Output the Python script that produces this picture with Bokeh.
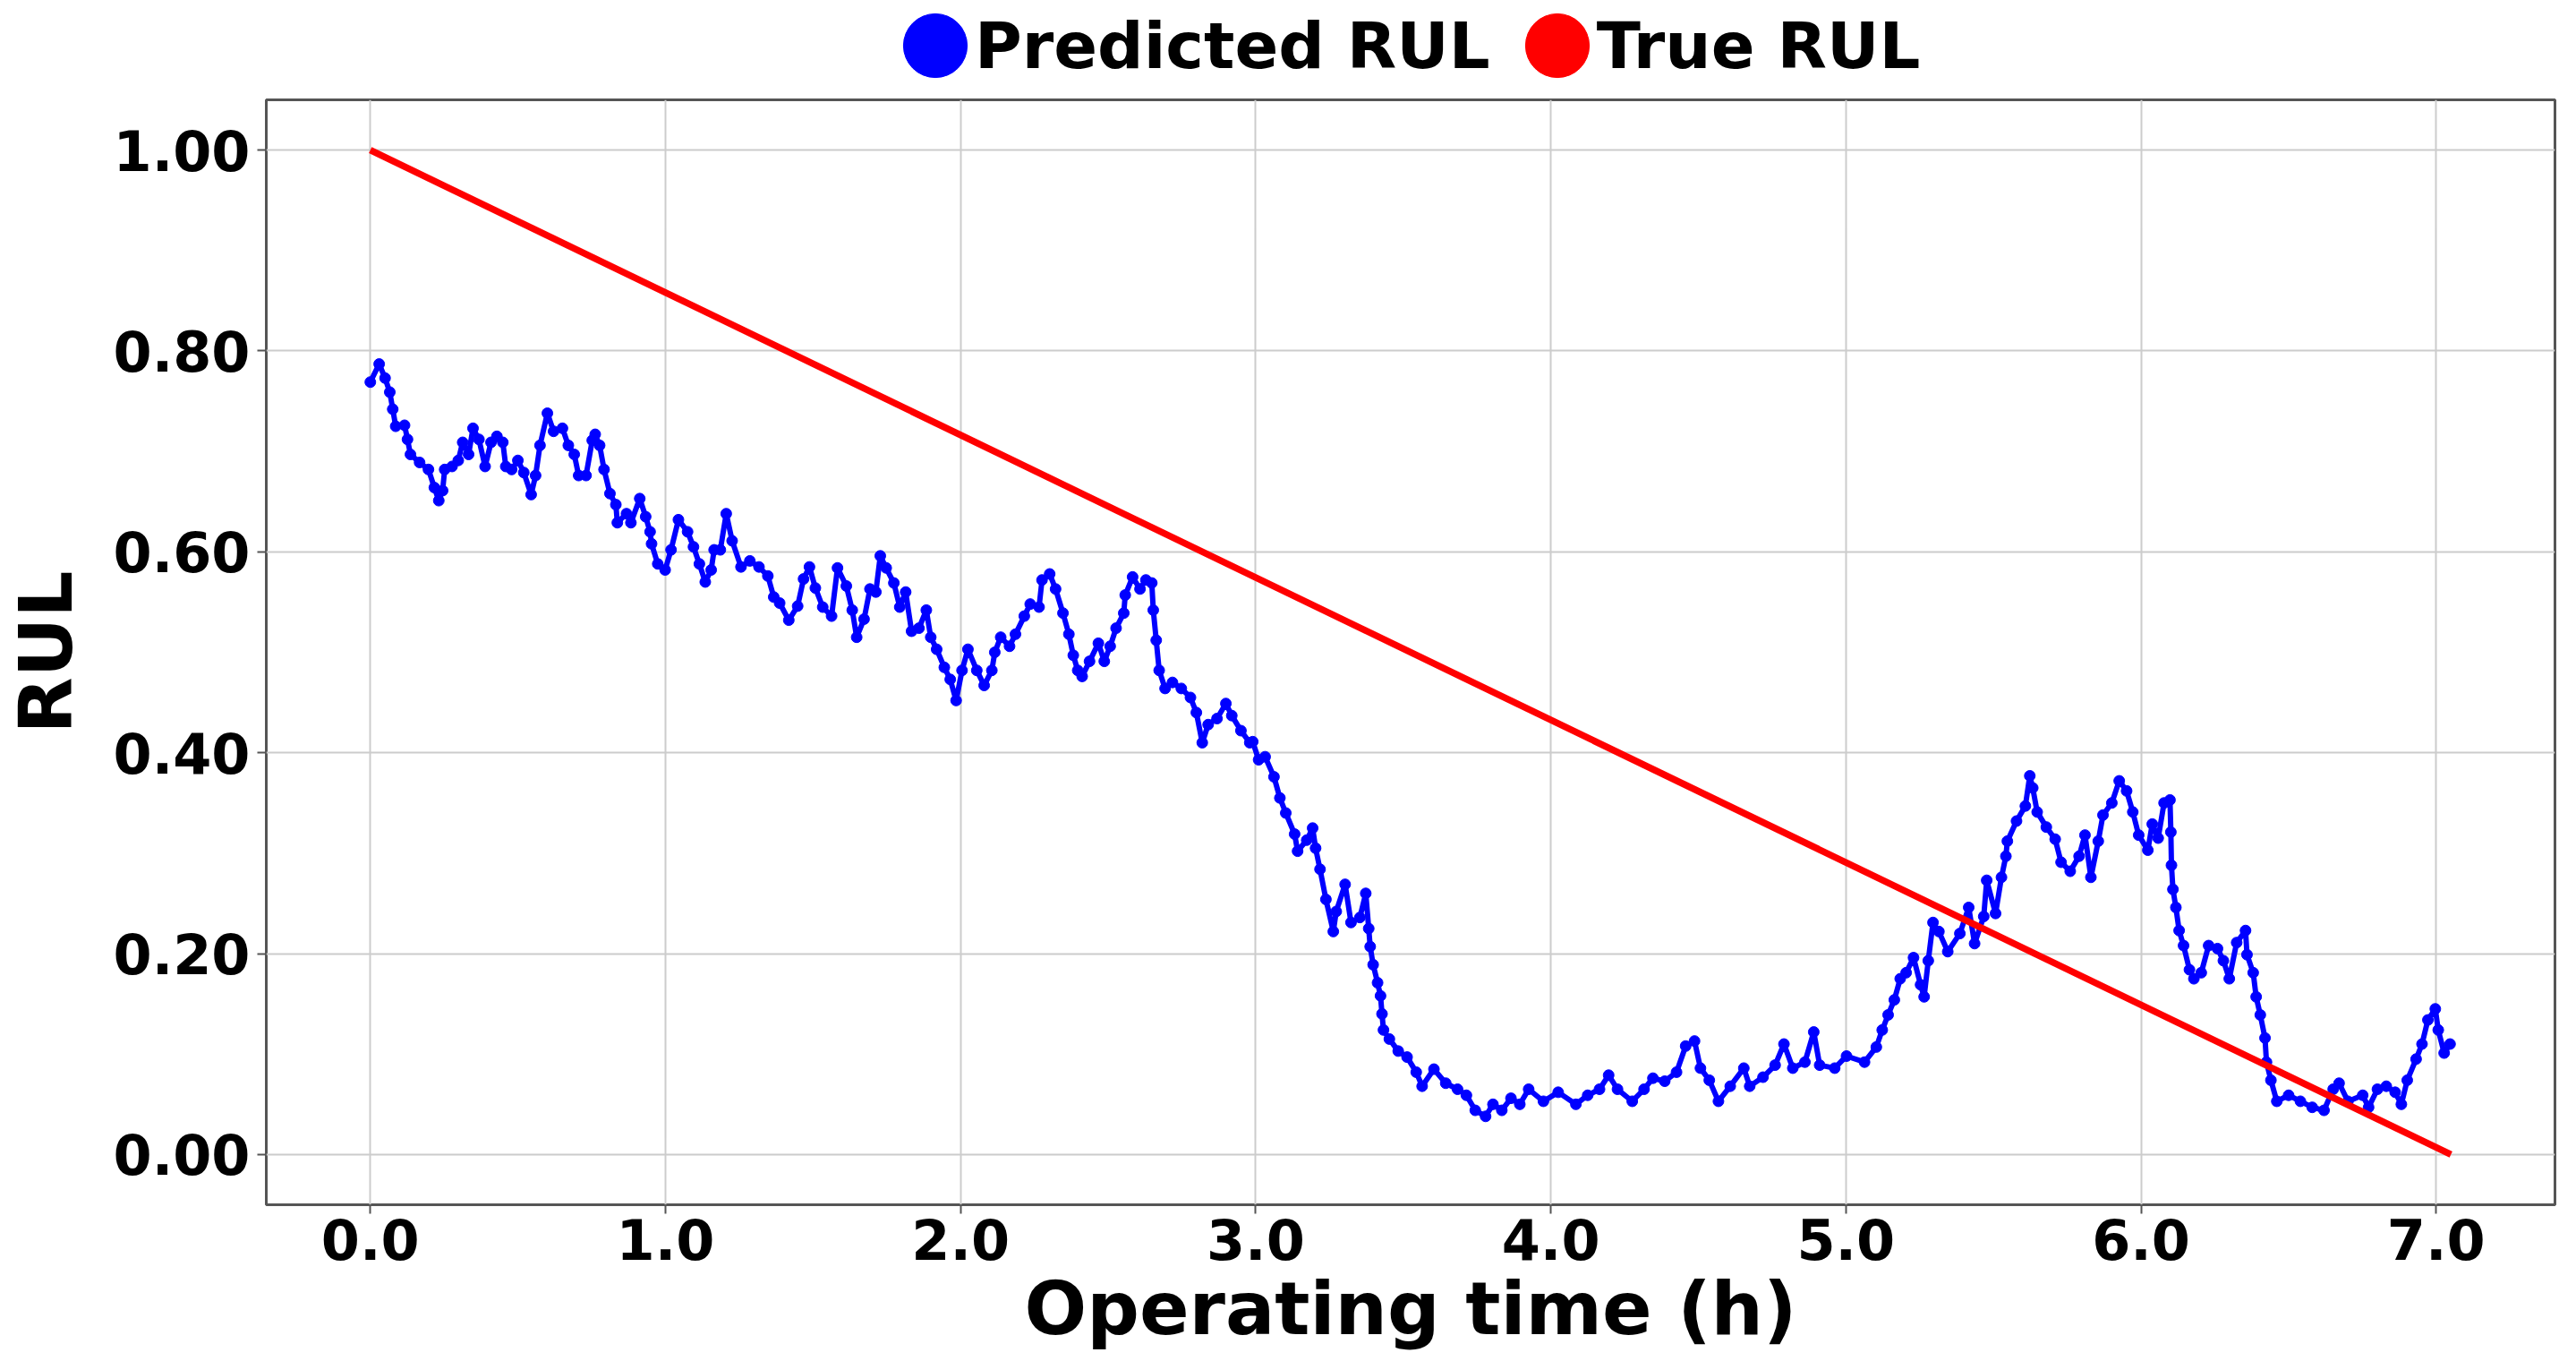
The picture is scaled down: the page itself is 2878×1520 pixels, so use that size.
from bokeh.plotting import figure
from bokeh.layouts import column
from bokeh.models import FixedTicker, NumeralTickFormatter, Legend, LegendItem, Range1d
from bokeh.embed import file_html
from bokeh.resources import INLINE

# ---------------- data ----------------
pred_time = [
    0.000, 0.030, 0.050, 0.066, 0.076, 0.086, 0.116, 0.126, 0.136, 0.167,
    0.197, 0.217, 0.232, 0.245, 0.252, 0.277, 0.298, 0.313, 0.333, 0.348,
    0.368, 0.389, 0.409, 0.429, 0.449, 0.459, 0.479, 0.500, 0.520, 0.545,
    0.560, 0.575, 0.600, 0.621, 0.651, 0.671, 0.691, 0.706, 0.731, 0.752,
    0.762, 0.777, 0.792, 0.812, 0.832, 0.837, 0.868, 0.883, 0.913, 0.933,
    0.948, 0.953, 0.974, 0.999, 1.019, 1.044, 1.075, 1.095, 1.115, 1.135,
    1.155, 1.165, 1.186, 1.206, 1.226, 1.256, 1.286, 1.317, 1.347, 1.367,
    1.387, 1.418, 1.448, 1.468, 1.488, 1.508, 1.533, 1.563, 1.583, 1.613,
    1.633, 1.648, 1.673, 1.693, 1.713, 1.728, 1.748, 1.774, 1.794, 1.814,
    1.834, 1.859, 1.884, 1.899, 1.919, 1.945, 1.965, 1.985, 2.005, 2.025,
    2.055, 2.080, 2.106, 2.116, 2.136, 2.166, 2.186, 2.216, 2.236, 2.266,
    2.276, 2.302, 2.322, 2.347, 2.367, 2.382, 2.397, 2.412, 2.437, 2.467,
    2.487, 2.507, 2.527, 2.553, 2.558, 2.583, 2.608, 2.628, 2.648, 2.653,
    2.663, 2.673, 2.693, 2.718, 2.748, 2.779, 2.799, 2.819, 2.839, 2.869,
    2.899, 2.919, 2.950, 2.980, 2.990, 3.010, 3.032, 3.062, 3.082, 3.102,
    3.132, 3.142, 3.173, 3.193, 3.203, 3.218, 3.238, 3.263, 3.273, 3.303,
    3.323, 3.353, 3.373, 3.383, 3.388, 3.398, 3.413, 3.423, 3.428, 3.433,
    3.453, 3.483, 3.513, 3.544, 3.564, 3.604, 3.644, 3.684, 3.714, 3.744,
    3.779, 3.804, 3.834, 3.865, 3.895, 3.925, 3.975, 4.025, 4.085, 4.125,
    4.165, 4.196, 4.226, 4.276, 4.316, 4.346, 4.386, 4.426, 4.457, 4.487,
    4.507, 4.537, 4.568, 4.608, 4.654, 4.674, 4.719, 4.760, 4.790, 4.820,
    4.861, 4.891, 4.911, 4.962, 5.002, 5.063, 5.103, 5.123, 5.143, 5.164,
    5.184, 5.204, 5.229, 5.253, 5.265, 5.279, 5.295, 5.315, 5.345, 5.386,
    5.416, 5.436, 5.467, 5.477, 5.507, 5.527, 5.542, 5.547, 5.578, 5.608,
    5.623, 5.633, 5.648, 5.679, 5.709, 5.729, 5.760, 5.790, 5.810, 5.830,
    5.855, 5.871, 5.901, 5.926, 5.951, 5.972, 5.992, 6.023, 6.038, 6.058,
    6.078, 6.098, 6.101, 6.103, 6.108, 6.118, 6.129, 6.144, 6.164, 6.179,
    6.204, 6.229, 6.259, 6.279, 6.299, 6.324, 6.354, 6.359, 6.380, 6.390,
    6.404, 6.420, 6.425, 6.440, 6.460, 6.500, 6.540, 6.580, 6.620, 6.651,
    6.671, 6.701, 6.751, 6.771, 6.801, 6.831, 6.861, 6.882, 6.902, 6.932,
    6.952, 6.972, 6.997, 7.007, 7.027, 7.047,
]
pred_rul = [
    0.769, 0.787, 0.773, 0.759, 0.742, 0.725, 0.726, 0.712, 0.697, 0.689,
    0.682, 0.664, 0.651, 0.661, 0.682, 0.685, 0.691, 0.709, 0.697, 0.723,
    0.712, 0.685, 0.709, 0.715, 0.709, 0.685, 0.682, 0.691, 0.679, 0.657,
    0.676, 0.706, 0.738, 0.720, 0.723, 0.706, 0.697, 0.676, 0.676, 0.711,
    0.717, 0.706, 0.682, 0.658, 0.647, 0.629, 0.638, 0.629, 0.653, 0.635,
    0.620, 0.608, 0.588, 0.582, 0.602, 0.632, 0.620, 0.605, 0.588, 0.570,
    0.582, 0.602, 0.602, 0.638, 0.611, 0.585, 0.591, 0.585, 0.576, 0.555,
    0.549, 0.532, 0.546, 0.573, 0.585, 0.564, 0.545, 0.536, 0.584, 0.566,
    0.542, 0.515, 0.533, 0.563, 0.560, 0.596, 0.584, 0.569, 0.545, 0.560,
    0.521, 0.524, 0.542, 0.515, 0.503, 0.485, 0.473, 0.452, 0.482, 0.503,
    0.482, 0.467, 0.482, 0.500, 0.515, 0.506, 0.518, 0.536, 0.548, 0.545,
    0.572, 0.578, 0.563, 0.539, 0.518, 0.497, 0.482, 0.476, 0.491, 0.509,
    0.491, 0.506, 0.524, 0.539, 0.557, 0.575, 0.563, 0.572, 0.569, 0.542,
    0.512, 0.482, 0.464, 0.470, 0.464, 0.455, 0.440, 0.410, 0.428, 0.434,
    0.449, 0.437, 0.422, 0.410, 0.411, 0.393, 0.396, 0.376, 0.355, 0.340,
    0.319, 0.302, 0.313, 0.325, 0.305, 0.284, 0.254, 0.222, 0.242, 0.269,
    0.231, 0.236, 0.260, 0.225, 0.207, 0.189, 0.171, 0.158, 0.140, 0.124,
    0.115, 0.103, 0.097, 0.082, 0.068, 0.085, 0.071, 0.065, 0.059, 0.044,
    0.038, 0.050, 0.044, 0.056, 0.050, 0.065, 0.053, 0.062, 0.050, 0.059,
    0.065, 0.079, 0.065, 0.053, 0.065, 0.076, 0.073, 0.082, 0.108, 0.113,
    0.086, 0.074, 0.053, 0.068, 0.086, 0.068, 0.077, 0.089, 0.110, 0.086,
    0.092, 0.122, 0.089, 0.086, 0.098, 0.092, 0.107, 0.124, 0.139, 0.154,
    0.175, 0.181, 0.196, 0.169, 0.157, 0.193, 0.231, 0.222, 0.202, 0.220,
    0.246, 0.210, 0.237, 0.273, 0.240, 0.276, 0.297, 0.312, 0.332, 0.347,
    0.377, 0.365, 0.341, 0.326, 0.314, 0.291, 0.282, 0.297, 0.318, 0.276,
    0.312, 0.338, 0.350, 0.372, 0.362, 0.341, 0.318, 0.303, 0.329, 0.315,
    0.350, 0.353, 0.321, 0.288, 0.264, 0.246, 0.223, 0.208, 0.184, 0.175,
    0.181, 0.208, 0.205, 0.193, 0.175, 0.211, 0.223, 0.199, 0.181, 0.157,
    0.139, 0.116, 0.092, 0.074, 0.053, 0.059, 0.053, 0.047, 0.044, 0.065,
    0.071, 0.053, 0.059, 0.047, 0.065, 0.068, 0.062, 0.050, 0.074, 0.095,
    0.110, 0.134, 0.145, 0.124, 0.101, 0.110,
]
true_time = [0.0, 7.05]
true_rul = [1.0, 0.0]

x_ticks = [0, 1, 2, 3, 4, 5, 6, 7]
y_ticks = [0.0, 0.2, 0.4, 0.6, 0.8, 1.0]
x_label = "Operating time (h)"
y_label = "RUL"
series_labels = ["Predicted RUL", "True RUL"]

BLUE = "#0000ff"
RED = "#ff0000"
FONT = "DejaVu Sans"
W = 2862

# ---------------- main figure ----------------
p = figure(
    width=W, height=1409,
    x_range=Range1d(-0.3525, 7.4025), y_range=Range1d(-0.05, 1.05),
    output_backend="svg", toolbar_location=None,
    min_border_left=292, min_border_right=8,
    min_border_top=2, min_border_bottom=173,
    background_fill_color="white", border_fill_color="white",
)

p.line(pred_time, pred_rul, line_color=BLUE, line_width=6)
p.scatter(pred_time, pred_rul, size=12, fill_color=BLUE, line_color=BLUE)
p.line(true_time, true_rul, line_color=RED, line_width=7.5)

p.xaxis.ticker = FixedTicker(ticks=x_ticks)
p.yaxis.ticker = FixedTicker(ticks=y_ticks)
p.xaxis.formatter = NumeralTickFormatter(format="0.0")
p.yaxis.formatter = NumeralTickFormatter(format="0.00")
p.xaxis.axis_label = x_label
p.yaxis.axis_label = y_label

for ax in p.axis:
    ax.axis_line_color = None
    ax.major_tick_line_color = "#555555"
    ax.major_tick_line_width = 2
    ax.major_tick_out = 10
    ax.major_tick_in = 0
    ax.minor_tick_line_color = None
    ax.major_label_text_font = FONT
    ax.major_label_text_font_style = "bold"
    ax.major_label_text_font_size = "62px"
    ax.major_label_text_color = "black"
    ax.axis_label_text_font = FONT
    ax.axis_label_text_font_style = "bold"
    ax.axis_label_text_font_size = "82px"
    ax.axis_label_text_color = "black"

p.xaxis.major_label_standoff = 5
p.xaxis.axis_label_standoff = 4
p.yaxis.major_label_standoff = 8
p.yaxis.axis_label_standoff = 25

p.grid.grid_line_color = "#cccccc"
p.grid.grid_line_width = 2
p.outline_line_color = "#555555"
p.outline_line_width = 3

# ---------------- legend strip above the plot ----------------
# the key renderers sit outside this strip's ranges, so only their legend keys show
lg = figure(
    width=W, height=109,
    x_range=Range1d(100, 101), y_range=Range1d(100, 101),
    output_backend="svg", toolbar_location=None,
    x_axis_location=None, y_axis_location=None,
    min_border_left=292, min_border_right=8, min_border_top=0, min_border_bottom=0,
    background_fill_color="white", border_fill_color="white",
)
lg.outline_line_color = None
lg.grid.visible = False
r_pred_key = lg.ellipse(x=[pred_time[0]], y=[pred_rul[0]], width=10, height=10,
                        width_units="screen", height_units="screen",
                        fill_color=BLUE, line_color=BLUE)
r_true_key = lg.ellipse(x=[true_time[0]], y=[true_rul[0]], width=10, height=10,
                        width_units="screen", height_units="screen",
                        fill_color=RED, line_color=RED)

legend = Legend(
    items=[LegendItem(label=series_labels[0], renderers=[r_pred_key]),
           LegendItem(label=series_labels[1], renderers=[r_true_key])],
    orientation="horizontal",
    location=(703, 14),
    glyph_width=89, glyph_height=89,
    label_standoff=0, spacing=30,
    padding=0, margin=0,
    label_text_font=FONT, label_text_font_style="bold",
    label_text_font_size="72px", label_text_color="black",
    border_line_color=None, background_fill_alpha=0,
)
lg.add_layout(legend, "center")

layout = column(lg, p, spacing=0)
open("out.html", "w").write(file_html(layout, INLINE))
